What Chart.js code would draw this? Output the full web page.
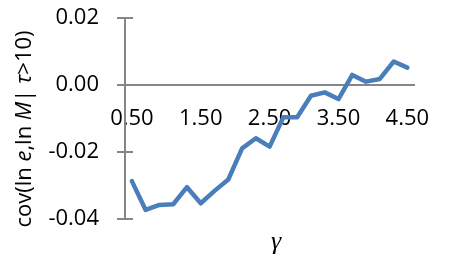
<!DOCTYPE html>
<html>
<head>
<meta charset="utf-8">
<script src="https://cdn.jsdelivr.net/npm/chart.js@4"></script>
<style>
  html, body { margin: 0; padding: 0; background: #fff; }
  #wrap { width: 451px; height: 263px; }
</style>
</head>
<body>
<div id="wrap"><canvas id="covChart"></canvas></div>
<script>
// gamma categories (0.50 .. 4.50 step 0.20)
const gammaLabels = ['0.50', '0.70', '0.90', '1.10', '1.30', '1.50', '1.70', '1.90', '2.10', '2.30', '2.50',
                     '2.70', '2.90', '3.10', '3.30', '3.50', '3.70', '3.90', '4.10', '4.30', '4.50'];
// cov(ln e, ln M | tau > 10)
const covValues = [-0.0287, -0.0373, -0.0358, -0.0356, -0.0305, -0.0353, -0.0316, -0.0282, -0.0189, -0.0159, -0.0184,
                   -0.0096, -0.0096, -0.0032, -0.0022, -0.0042, 0.0030, 0.0010, 0.0018, 0.0070, 0.0052];
const yTickValues = [-0.04, -0.02, 0.00, 0.02];
const xTickLabels = ['0.50', '1.50', '2.50', '3.50', '4.50'];

const axisGray = 'rgb(134,134,134)';
const lineBlue = 'rgb(74,126,187)';

// titel van y-as met cursieve letters
const yTitleParts = [
    ['cov(ln ', false], ['e', true], [',ln ', false], ['M', true], ['| ', false], ['τ', true], ['>10)', false]
];

const extraPlugin = {
    id: 'extras',
    afterDraw(chart) {
        const ctx = chart.ctx;
        const y = chart.scales.y;
        // korte streepjes binnen de as
        ctx.save();
        ctx.strokeStyle = axisGray;
        ctx.lineWidth = 2;
        yTickValues.forEach(v => {
            const py = Math.round(y.getPixelForValue(v));
            ctx.beginPath();
            ctx.moveTo(y.right, py);
            ctx.lineTo(y.right + 8, py);
            ctx.stroke();
        });
        ctx.restore();

        // y-as titel
        ctx.save();
        ctx.translate(25, 129);
        ctx.rotate(-Math.PI / 2);
        ctx.fillStyle = '#000';
        ctx.textBaseline = 'middle';
        const fontFor = it => (it ? 'italic ' : '') + '22px "Open Sans"';
        let total = 0;
        yTitleParts.forEach(([t, it]) => { ctx.font = fontFor(it); total += ctx.measureText(t).width; });
        let x = -total / 2;
        yTitleParts.forEach(([t, it]) => {
            ctx.font = fontFor(it);
            ctx.fillText(t, x, 0);
            x += ctx.measureText(t).width;
        });
        ctx.restore();
    }
};

const ctx = document.getElementById('covChart').getContext('2d');
new Chart(ctx, {
    type: 'line',
    data: {
        labels: gammaLabels,
        datasets: [{
            data: covValues,
            borderColor: lineBlue,
            backgroundColor: lineBlue,
            borderWidth: 4.5,
            tension: 0,
            pointRadius: 0,
            borderJoinStyle: 'round',
            borderCapStyle: 'round'
        }]
    },
    options: {
        responsive: true,
        maintainAspectRatio: false,
        animation: false,
        layout: { padding: { top: 18, right: 19, left: 0, bottom: 0 } },
        plugins: { legend: { display: false }, tooltip: { enabled: false } },
        scales: {
            x: {
                type: 'category',
                position: { y: 0 },
                offset: true,
                grid: { display: false, drawTicks: false },
                border: { color: axisGray, width: 2 },
                ticks: {
                    autoSkip: false,
                    maxRotation: 0,
                    padding: 21,
                    color: '#000',
                    font: { family: 'Open Sans', size: 22 },
                    callback: (v, i) => (xTickLabels.includes(gammaLabels[i]) ? gammaLabels[i] : '')
                }
            },
            x2: {
                type: 'category',
                position: 'bottom',
                labels: gammaLabels,
                grid: { display: false, drawTicks: false },
                border: { display: false },
                ticks: { display: false },
                title: {
                    display: true,
                    text: '\u2002γ',
                    color: '#000',
                    font: { family: 'Liberation Serif', size: 26, style: 'italic' },
                    padding: { top: 0, bottom: 5 }
                },
                afterFit: s => { s.height = 44; }
            },
            y: {
                min: -0.04,
                max: 0.02,
                afterBuildTicks: s => { s.ticks = yTickValues.map(v => ({ value: v })); },
                afterFit: s => { s.width = 125; s.paddingTop = 0; s.paddingBottom = 0; },
                grid: { drawOnChartArea: false, drawTicks: true, tickLength: 8, color: axisGray, lineWidth: 2 },
                border: { color: axisGray, width: 2 },
                ticks: {
                    padding: 18,
                    color: '#000',
                    font: { family: 'Open Sans', size: 22 },
                    callback: v => v.toFixed(2)
                }
            }
        }
    },
    plugins: [extraPlugin]
});
</script>
</body>
</html>
